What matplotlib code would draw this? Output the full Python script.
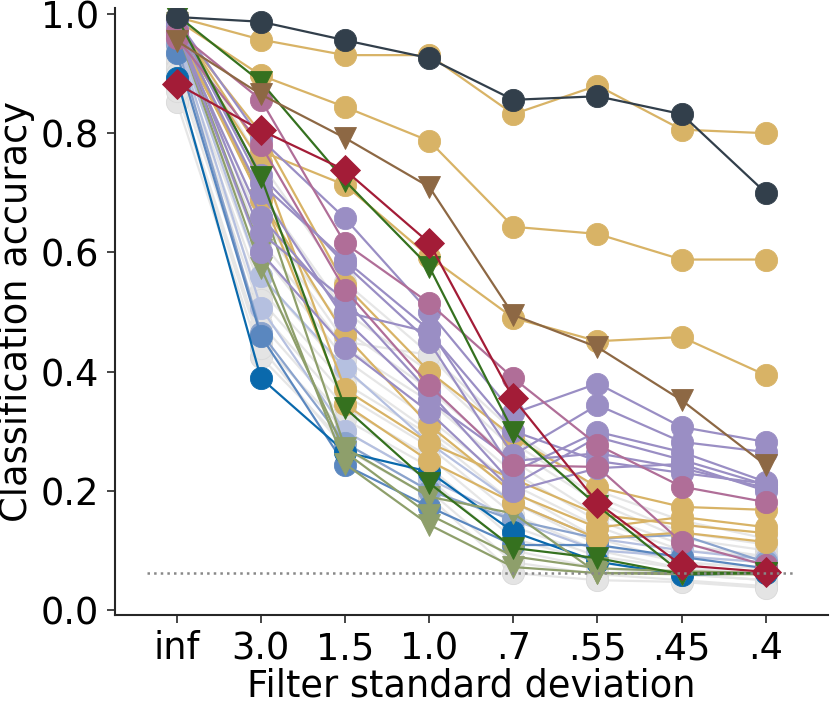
import matplotlib
matplotlib.use("Agg")
import matplotlib.pyplot as plt
import numpy as np

conditions = ["inf", "3.0", "1.5", "1.0", ".7", ".55", ".45", ".4"]
chance_level = 1 / 16

humans = [0.995, 0.987, 0.956, 0.926, 0.856, 0.862, 0.832, 0.700]

gold_models = [
    [0.995, 0.957, 0.931, 0.931, 0.832, 0.880, 0.806, 0.800],
    [0.990, 0.897, 0.844, 0.787, 0.643, 0.631, 0.588, 0.588],
    [0.985, 0.770, 0.713, 0.593, 0.490, 0.451, 0.458, 0.394],
    [0.980, 0.800, 0.545, 0.400, 0.290, 0.206, 0.173, 0.168],
    [0.975, 0.688, 0.461, 0.310, 0.196, 0.138, 0.156, 0.139],
    [0.970, 0.750, 0.370, 0.280, 0.220, 0.160, 0.143, 0.129],
    [0.965, 0.700, 0.345, 0.250, 0.180, 0.120, 0.130, 0.114],
]

purple_models = [
    [0.990, 0.790, 0.657, 0.500, 0.330, 0.380, 0.307, 0.282],
    [0.990, 0.716, 0.587, 0.470, 0.260, 0.344, 0.282, 0.265],
    [0.985, 0.730, 0.580, 0.450, 0.232, 0.299, 0.265, 0.215],
    [0.980, 0.632, 0.520, 0.366, 0.210, 0.290, 0.252, 0.210],
    [0.980, 0.700, 0.487, 0.352, 0.250, 0.263, 0.238, 0.205],
    [0.975, 0.600, 0.440, 0.332, 0.200, 0.238, 0.245, 0.200],
    [0.970, 0.660, 0.500, 0.466, 0.300, 0.250, 0.230, 0.212],
]

mauve_models = [
    [0.970, 0.856, 0.615, 0.515, 0.389, 0.277, 0.207, 0.181],
    [0.960, 0.780, 0.537, 0.377, 0.243, 0.240, 0.114, 0.075],
]

olive_models = [
    [0.985, 0.688, 0.272, 0.190, 0.162, 0.062, 0.060, 0.060],
    [0.980, 0.604, 0.245, 0.143, 0.072, 0.062, 0.062, 0.060],
    [0.975, 0.574, 0.265, 0.160, 0.090, 0.070, 0.065, 0.062],
]

green_models = [
    [0.998, 0.886, 0.720, 0.576, 0.299, 0.175, 0.062, 0.062],
    [0.995, 0.727, 0.339, 0.213, 0.104, 0.087, 0.060, 0.062],
]

brown_model = [0.955, 0.865, 0.792, 0.710, 0.495, 0.441, 0.352, 0.243]
red_model = [0.883, 0.805, 0.738, 0.616, 0.355, 0.180, 0.075, 0.064]

dark_blue_model = [0.893, 0.389, 0.265, 0.232, 0.131, 0.081, 0.059, 0.062]
blue_models = [
    [0.934, 0.460, 0.243, 0.173, 0.109, 0.109, 0.089, 0.070],
]
light_blue_models = [
    [0.950, 0.465, 0.280, 0.200, 0.151, 0.120, 0.126, 0.080],
]
pale_blue_models = [
    [0.960, 0.507, 0.300, 0.220, 0.151, 0.100, 0.090, 0.080],
    [0.965, 0.560, 0.406, 0.280, 0.180, 0.120, 0.100, 0.085],
]

grey_models = [
    [0.990, 0.750, 0.550, 0.430, 0.300, 0.200, 0.150, 0.120],
    [0.980, 0.700, 0.500, 0.400, 0.270, 0.180, 0.120, 0.100],
    [0.970, 0.660, 0.470, 0.370, 0.250, 0.160, 0.110, 0.090],
    [0.960, 0.620, 0.440, 0.350, 0.230, 0.150, 0.100, 0.090],
    [0.950, 0.600, 0.420, 0.320, 0.210, 0.140, 0.090, 0.080],
    [0.940, 0.560, 0.400, 0.300, 0.200, 0.120, 0.080, 0.070],
    [0.930, 0.537, 0.380, 0.294, 0.180, 0.110, 0.080, 0.070],
    [0.920, 0.520, 0.360, 0.274, 0.160, 0.100, 0.070, 0.060],
    [0.910, 0.500, 0.340, 0.257, 0.140, 0.090, 0.070, 0.060],
    [0.900, 0.480, 0.320, 0.240, 0.120, 0.080, 0.060, 0.050],
    [0.880, 0.450, 0.300, 0.220, 0.100, 0.070, 0.060, 0.050],
    [0.852, 0.424, 0.280, 0.200, 0.080, 0.060, 0.050, 0.040],
    [0.870, 0.440, 0.270, 0.190, 0.062, 0.050, 0.047, 0.037],
    [0.950, 0.650, 0.450, 0.428, 0.280, 0.190, 0.130, 0.110],
]

plt.rcParams["font.family"] = "DejaVu Sans"
fig = plt.figure(figsize=(8.3, 7.01), dpi=100)
ax = fig.add_axes([0.138, 0.1227, 0.8596, 0.8659])

x = np.arange(len(conditions))
MS = 16
LW = 1.6


def draw(series, color, marker, z, ms=MS, mec=None, lcolor=None):
    ax.plot(x, series, color=lcolor or color, lw=LW, marker=marker, ms=ms,
            mfc=color, mec=mec or color, mew=0.6, zorder=z)


for s in grey_models:
    draw(s, "#e4e4e4", "o", 2, mec="#d9d9d9", lcolor="#e6e6e6")
for s in pale_blue_models:
    draw(s, "#b5c0e0", "o", 3)
for s in light_blue_models:
    draw(s, "#8aa3cd", "o", 3)
for s in blue_models:
    draw(s, "#5a87bf", "o", 3)
draw(dark_blue_model, "#0a69ac", "o", 4)
for s in olive_models:
    draw(s, "#8e9f6b", "v", 4)
for s in gold_models:
    draw(s, "#d8b366", "o", 5)
for s in purple_models:
    draw(s, "#9a8ec4", "o", 6)
for s in mauve_models:
    draw(s, "#b06e98", "o", 6)
for s in green_models:
    draw(s, "#35711f", "v", 7)
draw(brown_model, "#8d6844", "v", 8)
draw(red_model, "#a31c37", "D", 9, ms=15)
draw(humans, "#323f4b", "o", 10)

ax.axhline(chance_level, xmin=0.0448, xmax=0.955, color="#888888", lw=1.8,
           ls=":", zorder=11)

FS = 26.5
ax.set_xlim(-0.74, 7.74)
ax.set_ylim(-0.0084, 1.0101)
ax.set_xticks(x)
ax.set_xticklabels(conditions)
ax.set_yticks([0.0, 0.2, 0.4, 0.6, 0.8, 1.0])
ax.set_yticklabels(["0.0", "0.2", "0.4", "0.6", "0.8", "1.0"])
ax.tick_params(labelsize=FS, length=6, width=1.2, color="#262626", pad=5)
ax.set_xlabel("Filter standard deviation", fontsize=FS, labelpad=0)
ax.set_ylabel("Classification accuracy", fontsize=FS, labelpad=4)
for side in ["top", "right"]:
    ax.spines[side].set_visible(False)
for side in ["left", "bottom"]:
    ax.spines[side].set_linewidth(1.5)
    ax.spines[side].set_color("#262626")

fig.savefig("out.png", dpi=100)
